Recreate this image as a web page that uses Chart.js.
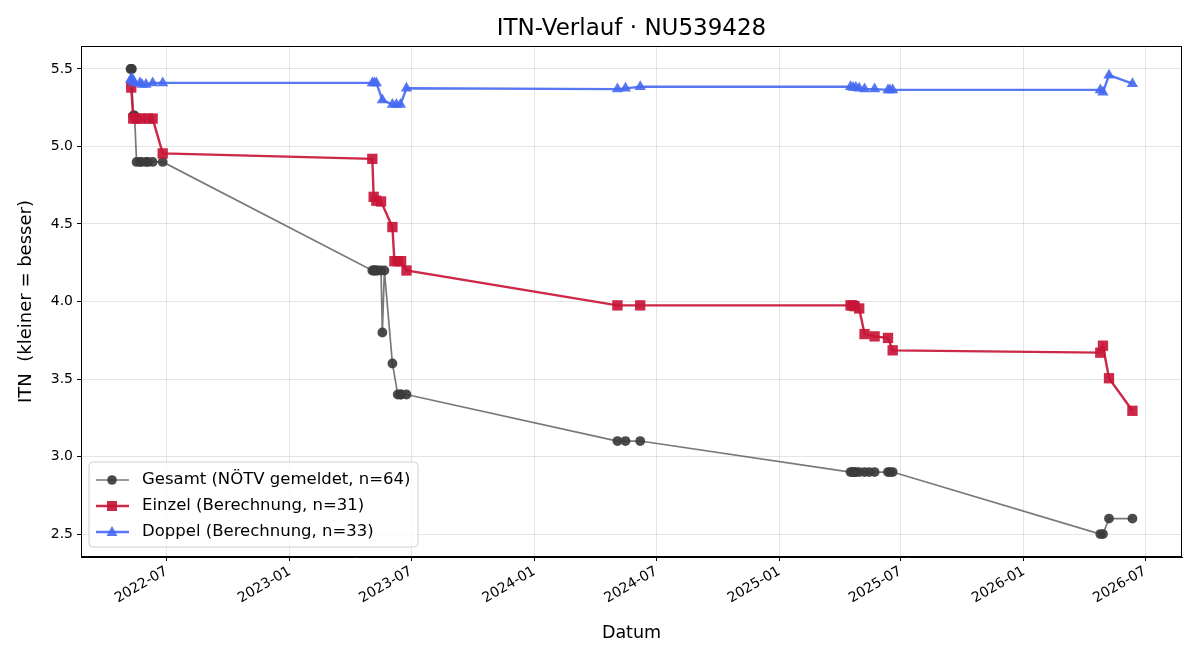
<!DOCTYPE html>
<html>
<head>
<meta charset="utf-8">
<script src="https://cdn.jsdelivr.net/npm/chart.js@4.4.1/dist/chart.umd.min.js"></script>
<style>
  html, body { margin: 0; padding: 0; background: #fff; }
  #wrap { width: 1200px; height: 660px; }
</style>
</head>
<body>
<div id="wrap"><canvas id="itn" width="1200" height="660"></canvas></div>
<script>
// ---- data ----
const gesamtDatum = [
  "2022-05-08", "2022-05-09", "2022-05-10", "2022-05-12", "2022-05-14", "2022-05-17",
  "2022-05-22", "2022-05-24", "2022-05-31", "2022-06-03", "2022-06-10", "2022-06-25",
  "2023-05-04", "2023-05-06", "2023-05-07", "2023-05-08", "2023-05-10", "2023-05-12",
  "2023-05-17", "2023-05-19", "2023-05-22", "2023-06-03", "2023-06-11", "2023-06-15",
  "2023-06-16", "2023-06-24",
  "2024-05-04", "2024-05-16", "2024-06-07",
  "2025-04-17", "2025-04-20", "2025-04-21", "2025-04-23", "2025-04-25", "2025-04-30",
  "2025-05-08", "2025-05-15", "2025-05-23", "2025-06-12", "2025-06-15", "2025-06-19",
  "2026-04-25", "2026-04-29", "2026-05-08", "2026-06-12"
];
const gesamtITN = [
  5.5, 5.5, 5.5, 5.2, 5.2, 4.9,
  4.9, 4.9, 4.9, 4.9, 4.9, 4.9,
  4.2, 4.2, 4.2, 4.2, 4.2, 4.2,
  4.2, 3.8, 4.2, 3.6, 3.4, 3.4,
  3.4, 3.4,
  3.1, 3.1, 3.1,
  2.9, 2.9, 2.9, 2.9, 2.9, 2.9,
  2.9, 2.9, 2.9, 2.9, 2.9, 2.9,
  2.5, 2.5, 2.6, 2.6
];

const einzelDatum = [
  "2022-05-09", "2022-05-12", "2022-05-17", "2022-05-24", "2022-06-03", "2022-06-10", "2022-06-25",
  "2023-05-04", "2023-05-06", "2023-05-10", "2023-05-17", "2023-06-03", "2023-06-06",
  "2023-06-11", "2023-06-16", "2023-06-24",
  "2024-05-04", "2024-06-07",
  "2025-04-17", "2025-04-20", "2025-04-23", "2025-04-30", "2025-05-08", "2025-05-23",
  "2025-06-12", "2025-06-19",
  "2026-04-25", "2026-04-29", "2026-05-08", "2026-06-12"
];
const einzelITN = [
  5.38, 5.18, 5.18, 5.18, 5.18, 5.18, 4.955,
  4.92, 4.675, 4.65, 4.645, 4.48, 4.26,
  4.26, 4.26, 4.20,
  3.975, 3.975,
  3.975, 3.975, 3.97, 3.955, 3.79, 3.775,
  3.765, 3.685,
  3.67, 3.715, 3.505, 3.295
];

const doppelDatum = [
  "2022-05-08", "2022-05-10", "2022-05-12", "2022-05-14", "2022-05-22", "2022-05-25",
  "2022-05-31", "2022-06-10", "2022-06-25",
  "2023-05-04", "2023-05-07", "2023-05-10", "2023-05-19", "2023-06-03", "2023-06-09",
  "2023-06-15", "2023-06-24",
  "2024-05-04", "2024-05-16", "2024-06-07",
  "2025-04-17", "2025-04-21", "2025-04-25", "2025-04-30", "2025-05-08", "2025-05-23",
  "2025-06-12", "2025-06-15", "2025-06-19",
  "2026-04-25", "2026-04-29", "2026-05-08", "2026-06-12"
];
const doppelITN = [
  5.43, 5.44, 5.42, 5.41, 5.41, 5.40,
  5.40, 5.41, 5.41,
  5.41, 5.41, 5.41, 5.30, 5.27, 5.27,
  5.27, 5.375,
  5.37, 5.375, 5.385,
  5.385, 5.38, 5.38, 5.375, 5.37, 5.37,
  5.365, 5.365, 5.365,
  5.365, 5.35, 5.46, 5.405
];

const xTickLabels = ["2022-07", "2023-01", "2023-07", "2024-01", "2024-07", "2025-01", "2025-07", "2026-01", "2026-07"];
const yTicks = [2.5, 3.0, 3.5, 4.0, 4.5, 5.0, 5.5];
const legendLabels = [
  "Gesamt (NÖTV gemeldet, n=64)",
  "Einzel (Berechnung, n=31)",
  "Doppel (Berechnung, n=33)"
];

// ---- helpers ----
const FONT = "'DejaVu Sans', sans-serif";
const toDay = s => Date.UTC(+s.slice(0, 4), +s.slice(5, 7) - 1, s.length > 7 ? +s.slice(8, 10) : 1) / 86400000;
const pts = (dates, vals) => dates.map((d, i) => ({ x: toDay(d), y: vals[i] }));

const COL_GRAY_LINE = "rgba(68,68,68,0.72)";
const COL_GRAY_PT = "rgba(60,60,60,0.92)";
const COL_RED = "rgba(200,22,55,0.92)";
const COL_BLUE = "rgba(70,105,242,0.9)";

// title, axis titles, top/right frame and legend
const decor = {
  id: "decor",
  afterDraw(chart) {
    const { ctx, chartArea: a } = chart;
    ctx.save();
    ctx.strokeStyle = "#000";
    ctx.lineWidth = 1;
    ctx.strokeRect(a.left + 0.5, a.top + 0.5, a.right - a.left - 1, a.bottom - a.top - 1);

    ctx.fillStyle = "#000";
    ctx.textAlign = "center";
    ctx.textBaseline = "middle";
    ctx.font = "23px " + FONT;
    ctx.fillText("ITN-Verlauf · NU539428", (a.left + a.right) / 2, 29);
    ctx.font = "17.5px " + FONT;
    ctx.fillText("Datum", (a.left + a.right) / 2, 633);
    ctx.font = "18px " + FONT;
    ctx.translate(26, (a.top + a.bottom) / 2);
    ctx.rotate(-Math.PI / 2);
    ctx.fillText("ITN  (kleiner = besser)", 0, 0);
    ctx.restore();

    // legend box
    ctx.save();
    const bx = 89, by = 462, bw = 329, bh = 85, r = 4;
    ctx.beginPath();
    ctx.moveTo(bx + r, by);
    ctx.arcTo(bx + bw, by, bx + bw, by + bh, r);
    ctx.arcTo(bx + bw, by + bh, bx, by + bh, r);
    ctx.arcTo(bx, by + bh, bx, by, r);
    ctx.arcTo(bx, by, bx + bw, by, r);
    ctx.closePath();
    ctx.fillStyle = "rgba(255,255,255,0.8)";
    ctx.fill();
    ctx.strokeStyle = "#d0d0d0";
    ctx.stroke();

    const rows = [
      { y: 480, line: COL_GRAY_LINE, pt: COL_GRAY_PT, lw: 1.6, shape: "circle" },
      { y: 506, line: COL_RED, pt: COL_RED, lw: 2.4, shape: "rect" },
      { y: 532, line: COL_BLUE, pt: COL_BLUE, lw: 2.4, shape: "triangle" }
    ];
    rows.forEach((row, i) => {
      ctx.strokeStyle = row.line;
      ctx.lineWidth = row.lw;
      ctx.beginPath();
      ctx.moveTo(96, row.y);
      ctx.lineTo(129, row.y);
      ctx.stroke();
      ctx.fillStyle = row.pt;
      ctx.beginPath();
      if (row.shape === "circle") ctx.arc(112, row.y, 4.8, 0, Math.PI * 2);
      if (row.shape === "rect") ctx.rect(107, row.y - 5, 10, 10);
      if (row.shape === "triangle") { ctx.moveTo(112, row.y - 6); ctx.lineTo(117.5, row.y + 4); ctx.lineTo(106.5, row.y + 4); ctx.closePath(); }
      ctx.fill();
      ctx.fillStyle = "#000";
      ctx.font = "16.5px " + FONT;
      ctx.textAlign = "left";
      ctx.textBaseline = "middle";
      ctx.fillText(legendLabels[i], 142, row.y);
    });
    ctx.restore();
  }
};

new Chart(document.getElementById("itn"), {
  type: "line",
  data: {
    datasets: [
      {
        label: legendLabels[0],
        data: pts(gesamtDatum, gesamtITN),
        borderColor: COL_GRAY_LINE,
        borderWidth: 1.7,
        pointStyle: "circle",
        pointRadius: 4.9,
        pointBackgroundColor: COL_GRAY_PT,
        pointBorderColor: COL_GRAY_PT,
        pointBorderWidth: 0,
        order: 3
      },
      {
        label: legendLabels[1],
        data: pts(einzelDatum, einzelITN),
        borderColor: COL_RED,
        borderWidth: 2.4,
        pointStyle: "rect",
        pointRadius: 7.3,
        pointBackgroundColor: COL_RED,
        pointBorderColor: COL_RED,
        pointBorderWidth: 0,
        order: 2
      },
      {
        label: legendLabels[2],
        data: pts(doppelDatum, doppelITN),
        borderColor: COL_BLUE,
        borderWidth: 2.4,
        pointStyle: "triangle",
        pointRadius: 6.5,
        pointBackgroundColor: COL_BLUE,
        pointBorderColor: COL_BLUE,
        pointBorderWidth: 0,
        order: 1
      }
    ]
  },
  options: {
    responsive: false,
    devicePixelRatio: 1,
    animation: false,
    layout: { padding: { top: 46, right: 18, left: 0, bottom: 0 } },
    plugins: { legend: { display: false }, tooltip: { enabled: false } },
    scales: {
      x: {
        type: "linear",
        min: toDay("2022-02-23"),
        max: toDay("2026-08-25"),
        afterBuildTicks: s => { s.ticks = xTickLabels.map(t => ({ value: toDay(t) })); },
        afterFit: s => { s.height = 103; },
        grid: { color: "rgba(0,0,0,0.1)", tickColor: "#000", tickLength: 4 },
        border: { color: "#000", width: 1 },
        ticks: {
          autoSkip: false,
          minRotation: 30,
          maxRotation: 30,
          padding: 2,
          color: "#000",
          font: { family: FONT, size: 14 },
          callback: v => {
            const d = new Date(v * 86400000);
            return d.getUTCFullYear() + "-" + String(d.getUTCMonth() + 1).padStart(2, "0");
          }
        }
      },
      y: {
        min: 2.352,
        max: 5.648,
        afterBuildTicks: s => { s.ticks = yTicks.map(v => ({ value: v })); },
        afterFit: s => { s.width = 81; },
        grid: { color: "rgba(0,0,0,0.1)", tickColor: "#000", tickLength: 4 },
        border: { color: "#000", width: 1 },
        ticks: {
          padding: 4,
          color: "#000",
          font: { family: FONT, size: 14 },
          callback: v => v.toFixed(1)
        }
      }
    }
  },
  plugins: [decor]
});
</script>
</body>
</html>
